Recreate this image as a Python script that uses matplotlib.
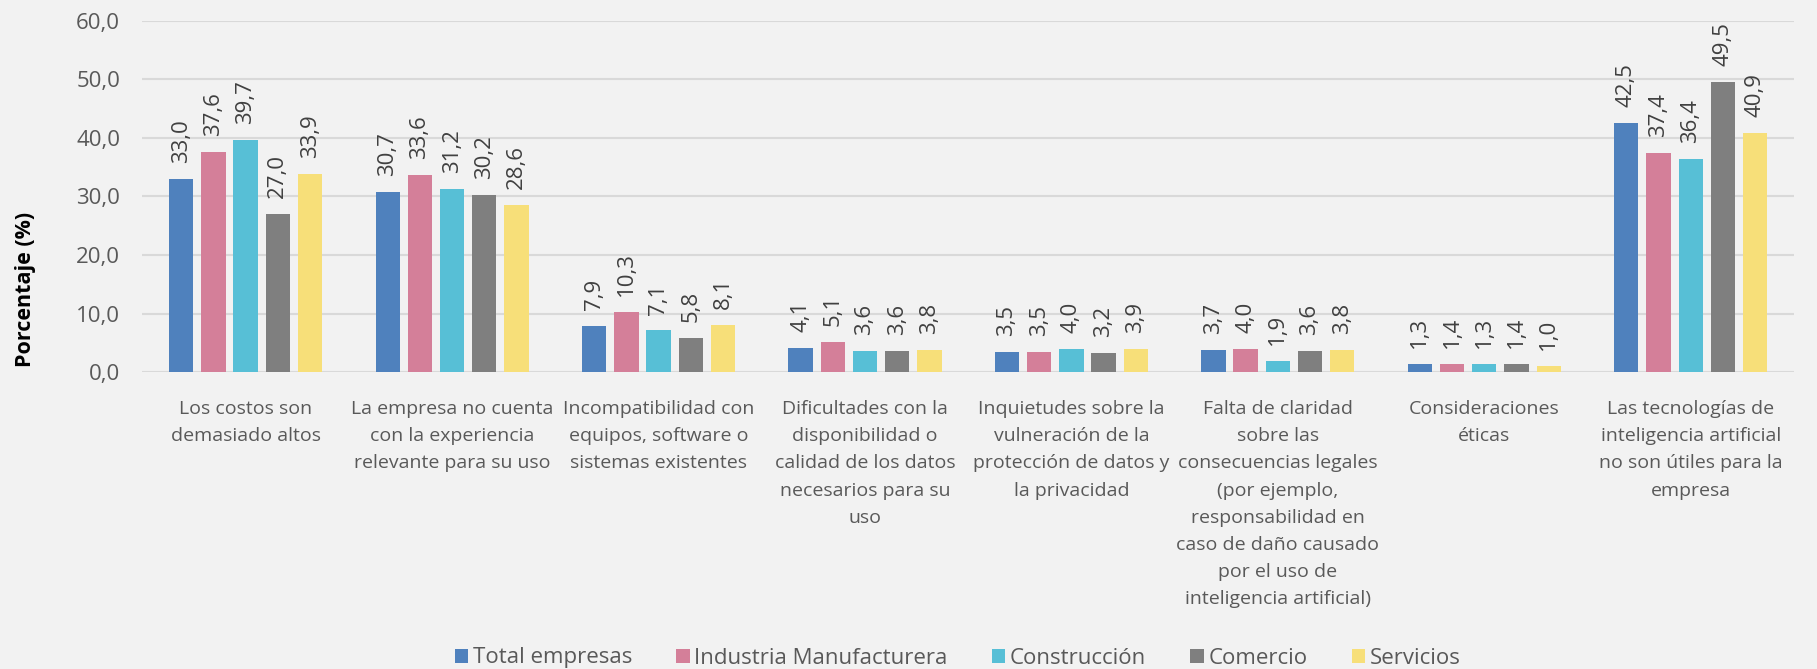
import matplotlib.pyplot as plt
import numpy as np
from matplotlib.patches import Patch
from matplotlib.ticker import FuncFormatter

# reasons for not using AI, share of companies by sector (%)
categories = [
    "Los costos son\ndemasiado altos",
    "La empresa no cuenta\ncon la experiencia\nrelevante para su uso",
    "Incompatibilidad con\nequipos, software o\nsistemas existentes",
    "Dificultades con la\ndisponibilidad o\ncalidad de los datos\nnecesarios para su\nuso",
    "Inquietudes sobre la\nvulneración de la\nprotección de datos y\nla privacidad",
    "Falta de claridad\nsobre las\nconsecuencias legales\n(por ejemplo,\nresponsabilidad en\ncaso de daño causado\npor el uso de\ninteligencia artificial)",
    "Consideraciones\néticas",
    "Las tecnologías de\ninteligencia artificial\nno son útiles para la\nempresa",
]
series_names = ["Total empresas", "Industria Manufacturera", "Construcción", "Comercio", "Servicios"]
total_empresas = [33.0, 30.7, 7.9, 4.1, 3.5, 3.7, 1.3, 42.5]
industria = [37.6, 33.6, 10.3, 5.1, 3.5, 4.0, 1.4, 37.4]
construccion = [39.7, 31.2, 7.1, 3.6, 4.0, 1.9, 1.3, 36.4]
comercio = [27.0, 30.2, 5.8, 3.6, 3.2, 3.6, 1.4, 49.5]
servicios = [33.9, 28.6, 8.1, 3.8, 3.9, 3.8, 1.0, 40.9]

series = [total_empresas, industria, construccion, comercio, servicios]
colors = ["#4F81BD", "#D47F99", "#57BFD6", "#7F7F7F", "#F7DF79"]

plt.rcParams["font.family"] = ["Open Sans", "DejaVu Sans"]
text_color = "#595959"

fig = plt.figure(figsize=(18.17, 6.69), dpi=100, facecolor="#F2F2F2")
ax = fig.add_axes([0.0784, 0.4439, 0.9089, 0.5249], facecolor="#F2F2F2")

x = np.arange(len(categories))
step = 0.156
width = 0.118
for i, (vals, col) in enumerate(zip(series, colors)):
    pos = x + (i - 2) * step
    bars = ax.bar(pos, vals, width, color=col, zorder=3)
    for b, v in zip(bars, vals):
        ax.annotate(f"{v:.1f}".replace(".", ","),
                    (b.get_x() + b.get_width() / 2, v),
                    xytext=(0, 11.5), textcoords="offset points",
                    rotation=90, ha="center", va="bottom",
                    fontsize=16, color="#404040")

ax.set_xlim(-0.5, len(categories) - 0.5)
ax.set_ylim(0, 60)
ax.set_yticks(np.arange(0, 61, 10))
ax.yaxis.set_major_formatter(FuncFormatter(lambda v, p: f"{v:.1f}".replace(".", ",")))
ax.grid(axis="y", color="#D9D9D9", linewidth=1.5, zorder=0)
ax.set_xticks(x)
ax.set_xticklabels(categories, fontsize=14, color=text_color, linespacing=1.66)
ax.tick_params(axis="x", length=0, pad=20)
ax.tick_params(axis="y", length=0, pad=16, labelsize=16, labelcolor=text_color)
for s in ax.spines.values():
    s.set_visible(False)

fig.text(25 / 1817, 1 - 289 / 669, "Porcentaje (%)", rotation=90, ha="center", va="center",
         fontsize=15.5, fontweight="bold", color="black")

handles = [Patch(facecolor=c) for c in colors]
fig.legend(handles, series_names, loc="center", bbox_to_anchor=(0.527, 1 - 658 / 669),
           ncol=5, frameon=False, fontsize=16, labelcolor=text_color,
           handlelength=0.6, handleheight=0.6, handletextpad=0.2, columnspacing=2.0)

fig.savefig("out.png", dpi=100, facecolor=fig.get_facecolor())
